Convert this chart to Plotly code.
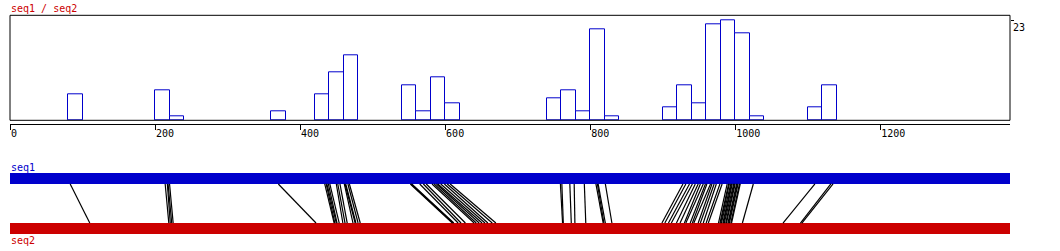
import plotly.graph_objects as go

# ---------------- data ----------------
seq1_name = "seq1"
seq2_name = "seq2"
seq_len = 1379

bin_width = 20
bin_start = [80, 200, 220, 360, 420, 440, 460, 540, 560, 580, 600, 740, 760, 780,
             800, 820, 900, 920, 940, 960, 980, 1000, 1020, 1100, 1120]
bin_count = [6, 7, 1, 2, 6, 11, 15, 8, 2, 10, 4, 5, 7, 2,
             21, 1, 3, 8, 4, 22, 23, 20, 1, 3, 8]

x_ticks = [0, 200, 400, 600, 800, 1000, 1200]
y_ticks = [23]

match_seq1 = [83, 214, 217, 218, 220, 370,
              434, 436, 437, 439, 441, 450, 452, 455, 461, 462, 463, 466, 468,
              552, 553, 554, 565, 570, 574, 582, 585, 588, 590, 594, 599, 603, 607,
              759, 761, 772, 778, 792, 808, 810, 811, 821,
              928, 932, 937, 941, 945, 949, 952, 956, 959, 961, 966, 968, 971, 974, 979, 982,
              989, 991, 992, 994, 995, 996, 998, 999, 1000, 1002, 1003, 1004, 1006, 1007,
              1025, 1110, 1132, 1135]
match_seq2 = [110, 219, 221, 223, 225, 422,
              447, 448, 450, 451, 454, 459, 462, 465, 473, 476, 477, 480, 483,
              610, 611, 612, 618, 622, 628, 640, 643, 647, 651, 655, 659, 665, 670,
              762, 763, 774, 779, 794, 818, 819, 821, 830,
              899, 903, 908, 912, 919, 924, 930, 932, 938, 941, 943, 949, 952, 956, 960, 963,
              977, 979, 980, 981, 983, 984, 985, 987, 988, 990, 991, 992, 994, 995,
              1010, 1066, 1090, 1092]

# ---------------- style ----------------
W, H = 1060, 251
BLUE = "#0000CC"
RED = "#CC0000"
FONT = "DejaVu Sans Mono"


def fx(px):
    return px / W


def fy(px):
    return 1 - px / H


BAND_H = 0.18  # fraction of lower panel height used by each band

fig = go.Figure()

fig.add_trace(go.Bar(
    x=bin_start, y=bin_count, width=bin_width, offset=0,
    marker=dict(color="white", line=dict(color=BLUE, width=1)),
    xaxis="x", yaxis="y", hoverinfo="skip",
))

lx, ly = [], []
for a, b in zip(match_seq1, match_seq2):
    lx += [a, b, None]
    ly += [1 - BAND_H, BAND_H, None]

fig.add_trace(go.Scatter(
    x=lx, y=ly, mode="lines", line=dict(color="black", width=1.2),
    xaxis="x2", yaxis="y2", hoverinfo="skip",
))

fig.update_layout(
    width=W, height=H,
    margin=dict(l=0, r=0, t=0, b=0),
    paper_bgcolor="white", plot_bgcolor="white",
    showlegend=False, bargap=0,
    font=dict(family=FONT, size=10, color="black"),
    xaxis=dict(
        domain=[fx(10), fx(1010)], range=[0, seq_len],
        anchor="free", position=fy(123.5),
        showline=True, linecolor="black", linewidth=1,
        ticks="outside", ticklen=5, tickcolor="black", tickwidth=1,
        tickvals=x_ticks, ticklabelposition="outside right",
        tickfont=dict(family=FONT, size=10, color="black"),
        showgrid=False, zeroline=False, fixedrange=True,
    ),
    yaxis=dict(
        domain=[fy(120.3), fy(15.3)], range=[0, 24.15],
        anchor="x", side="right",
        showline=False, ticks="outside", ticklen=3, tickcolor="black",
        tickvals=y_ticks, ticklabelposition="outside bottom",
        tickfont=dict(family=FONT, size=10, color="black"),
        showgrid=False, zeroline=False, fixedrange=True,
    ),
    xaxis2=dict(
        domain=[fx(10), fx(1010)], range=[0, seq_len], anchor="y2",
        visible=False, fixedrange=True,
    ),
    yaxis2=dict(
        domain=[fy(234), fy(173)], range=[0, 1], anchor="x2",
        visible=False, fixedrange=True,
    ),
    shapes=[
        dict(type="rect", xref="x domain", yref="y domain", x0=0, x1=1, y0=0, y1=1,
             line=dict(color="black", width=1), fillcolor="rgba(0,0,0,0)", layer="above"),
        dict(type="rect", xref="x2", yref="y2", x0=0, x1=seq_len, y0=1 - BAND_H, y1=1,
             line=dict(width=0), fillcolor=BLUE, layer="below"),
        dict(type="rect", xref="x2", yref="y2", x0=0, x1=seq_len, y0=0, y1=BAND_H,
             line=dict(width=0), fillcolor=RED, layer="below"),
    ],
    annotations=[
        dict(text=f"{seq1_name} / {seq2_name}", xref="paper", yref="paper",
             x=fx(9), y=fy(1), xanchor="left", yanchor="top", showarrow=False,
             font=dict(family=FONT, size=10, color=RED)),
        dict(text=seq1_name, xref="paper", yref="paper",
             x=fx(9), y=fy(160), xanchor="left", yanchor="top", showarrow=False,
             font=dict(family=FONT, size=10, color=BLUE)),
        dict(text=seq2_name, xref="paper", yref="paper",
             x=fx(9), y=fy(233), xanchor="left", yanchor="top", showarrow=False,
             font=dict(family=FONT, size=10, color=RED)),
    ],
)

fig.write_html("out.html")
